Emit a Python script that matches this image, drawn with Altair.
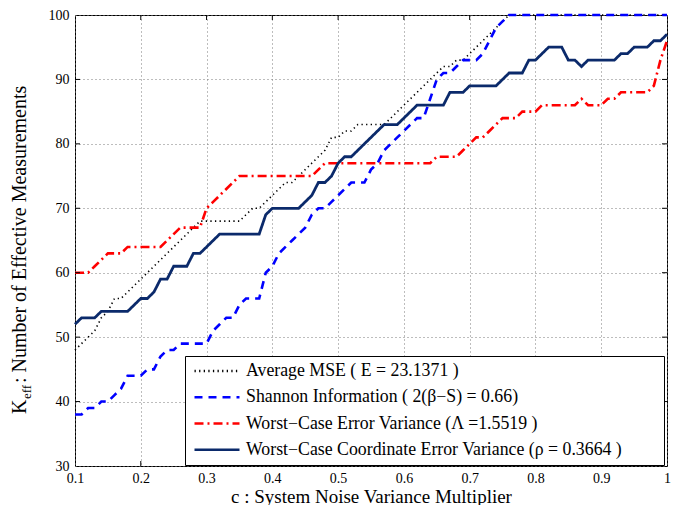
import altair as alt
import pandas as pd

# x positions (system noise variance multiplier c)
c_vals = [0.10, 0.11, 0.12, 0.13, 0.14, 0.15, 0.16, 0.17, 0.18, 0.19,
          0.20, 0.21, 0.22, 0.23, 0.24, 0.25, 0.26, 0.27, 0.28, 0.29,
          0.30, 0.31, 0.32, 0.33, 0.34, 0.35, 0.36, 0.37, 0.38, 0.39,
          0.40, 0.41, 0.42, 0.43, 0.44, 0.45, 0.46, 0.47, 0.48, 0.49,
          0.50, 0.51, 0.52, 0.53, 0.54, 0.55, 0.56, 0.57, 0.58, 0.59,
          0.60, 0.61, 0.62, 0.63, 0.64, 0.65, 0.66, 0.67, 0.68, 0.69,
          0.70, 0.71, 0.72, 0.73, 0.74, 0.75, 0.76, 0.77, 0.78, 0.79,
          0.80, 0.81, 0.82, 0.83, 0.84, 0.85, 0.86, 0.87, 0.88, 0.89,
          0.90, 0.91, 0.92, 0.93, 0.94, 0.95, 0.96, 0.97, 0.98, 0.99, 1.00]

avg_mse = [48, 49, 50, 51, 53, 54, 56, 56, 57, 58,
           59, 60, 61, 62, 63, 64, 65, 66, 67, 68,
           68, 68, 68, 68, 68, 68, 69, 70, 70, 71,
           72, 73, 74, 74, 75, 76, 77, 78, 79, 81,
           81, 82, 82, 83, 83, 83, 83, 83, 84, 85,
           86, 87, 88, 89, 90, 91, 92, 92, 93, 93,
           94, 95, 96, 97, 98, 99, 100, 100, 100, 100,
           100, 100, 100, 100, 100, 100, 100, 100, 100, 100,
           100, 100, 100, 100, 100, 100, 100, 100, 100, 100, 100]

shannon = [38, 38, 39, 39, 40, 40, 41, 42, 44, 44,
           44, 45, 45, 47, 48, 48, 49, 49, 49, 49,
           49, 51, 52, 53, 53, 55, 56, 56, 56, 60,
           61, 63, 64, 65, 66, 67, 69, 70, 70, 71,
           72, 73, 74, 74, 74, 76, 77, 79, 80, 81,
           82, 83, 84, 84, 87, 90, 91, 91, 92, 93,
           93, 93, 94, 96, 98, 99, 100, 100, 100, 100,
           100, 100, 100, 100, 100, 100, 100, 100, 100, 100,
           100, 100, 100, 100, 100, 100, 100, 100, 100, 100, 100]

worst_err = [60, 60, 60, 61, 62, 63, 63, 63, 64, 64,
             64, 64, 64, 64, 65, 66, 67, 67, 67, 67,
             70, 71, 72, 73, 74, 75, 75, 75, 75, 75,
             75, 75, 75, 75, 75, 75, 75, 76, 77, 77,
             77, 77, 77, 77, 77, 77, 77, 77, 77, 77,
             77, 77, 77, 77, 77, 78, 78, 78, 78, 79,
             80, 81, 81, 82, 83, 84, 84, 84, 85, 85,
             85, 86, 86, 86, 86, 86, 86, 87, 86, 86,
             86, 87, 87, 88, 88, 88, 88, 88, 89, 93, 96]

worst_coord = [52, 53, 53, 53, 54, 54, 54, 54, 54, 55,
               56, 56, 57, 59, 59, 61, 61, 61, 63, 63,
               64, 65, 66, 66, 66, 66, 66, 66, 66, 69,
               70, 70, 70, 70, 70, 71, 72, 74, 74, 75,
               77, 78, 78, 79, 80, 81, 82, 83, 83, 83,
               84, 85, 86, 86, 86, 86, 86, 88, 88, 88,
               89, 89, 89, 89, 89, 90, 91, 91, 91, 93,
               93, 94, 95, 95, 95, 93, 93, 92, 93, 93,
               93, 93, 93, 94, 94, 95, 95, 95, 96, 96, 97]

series_names = [
    "Average MSE ( E = 23.1371 )",
    "Shannon Information ( 2(\u03b2\u2212S) = 0.66)",
    "Worst\u2212Case Error Variance (\u039b =1.5519 )",
    "Worst\u2212Case Coordinate Error Variance (\u03c1 = 0.3664 )" + "\u00a0" * 8 + "\u200b",
]
series_values = [avg_mse, shannon, worst_err, worst_coord]
series_colors = ["#000000", "#0000FF", "#FF0000", "#0b2a6b"]
series_dashes = [[1.3, 3.3], [8, 6], [9, 4, 2, 4], [1, 0]]
series_widths = [1.6, 2.6, 2.6, 2.8]

x_ticks = [0.1, 0.2, 0.3, 0.4, 0.5, 0.6, 0.7, 0.8, 0.9, 1.0]
y_ticks = [30, 40, 50, 60, 70, 80, 90, 100]

rows = []
for name, vals in zip(series_names, series_values):
    for c, k in zip(c_vals, vals):
        rows.append({"c": c, "k": k, "series": name})
df = pd.DataFrame(rows)

W, H = 592, 451
FONT = "Liberation Serif"

x_scale = alt.Scale(domain=[0.1, 1.0], nice=False, zero=False)
y_scale = alt.Scale(domain=[30, 100], nice=False, zero=False)
x_axis = alt.Axis(values=x_ticks, format=".1~f", labelFlush=False,
                  labelFont=FONT, labelFontSize=14,
                  title="c : System Noise Variance Multiplier",
                  titleFont=FONT, titleFontSize=19, titleFontWeight="normal",
                  titleBaseline="alphabetic", titleY=36, labelPadding=5)
y_axis = alt.Axis(values=y_ticks, labelFlush=False, title=None, labelPadding=6,
                  labelFont=FONT, labelFontSize=14)

legend = alt.Legend(orient="none", legendX=110, legendY=341, title=None,
                    direction="vertical", symbolType="stroke", symbolSize=2025,
                    symbolStrokeWidth=2.5, labelFont=FONT, labelFontSize=17.8,
                    labelColor="black", labelLimit=900, padding=6, rowPadding=7.3,
                    strokeColor="black", fillColor="white", labelOffset=5,
                    symbolOffset=2, clipHeight=17.8, cornerRadius=0)

color_enc = alt.Color("series:N", scale=alt.Scale(domain=series_names, range=series_colors),
                      legend=legend)
dash_enc = alt.StrokeDash("series:N", scale=alt.Scale(domain=series_names, range=series_dashes),
                          legend=legend)

layers = []
for name, w in zip(series_names, series_widths):
    layers.append(
        alt.Chart(df).transform_filter(alt.datum.series == name)
        .mark_line(strokeWidth=w, strokeCap="butt", strokeJoin="miter")
        .encode(x=alt.X("c:Q", scale=x_scale, axis=x_axis),
                y=alt.Y("k:Q", scale=y_scale, axis=y_axis),
                color=color_enc, strokeDash=dash_enc)
    )

# inward tick marks on all four sides
xt = pd.DataFrame({"c": x_ticks[1:-1]})
yt = pd.DataFrame({"k": y_ticks[1:-1]})
tick_bottom = alt.Chart(xt).mark_rule(color="black", strokeWidth=1).encode(
    x=alt.X("c:Q", scale=x_scale, axis=x_axis), y=alt.value(H), y2=alt.value(H - 5))
tick_top = alt.Chart(xt).mark_rule(color="black", strokeWidth=1).encode(
    x=alt.X("c:Q", scale=x_scale, axis=x_axis), y=alt.value(0), y2=alt.value(5))
tick_left = alt.Chart(yt).mark_rule(color="black", strokeWidth=1).encode(
    y=alt.Y("k:Q", scale=y_scale, axis=y_axis), x=alt.value(0), x2=alt.value(5))
tick_right = alt.Chart(yt).mark_rule(color="black", strokeWidth=1).encode(
    y=alt.Y("k:Q", scale=y_scale, axis=y_axis), x=alt.value(W), x2=alt.value(W - 5))

# y-axis title with subscript
ytitle_main = alt.Chart(pd.DataFrame({"t": [" : Number of Effective Measurements"]})).mark_text(
    angle=270, align="left", baseline="alphabetic", font=FONT, fontSize=20, color="black"
).encode(text="t:N", x=alt.value(-49), y=alt.value(368))
ytitle_k = alt.Chart(pd.DataFrame({"t": ["K"]})).mark_text(
    angle=270, align="left", baseline="alphabetic", font=FONT, fontSize=20, color="black"
).encode(text="t:N", x=alt.value(-49), y=alt.value(399))
ytitle_sub = alt.Chart(pd.DataFrame({"t": ["eff"]})).mark_text(
    angle=270, align="left", baseline="alphabetic", font=FONT, fontSize=13, color="black"
).encode(text="t:N", x=alt.value(-44), y=alt.value(384))

chart = alt.layer(
    *layers, tick_bottom, tick_top, tick_left, tick_right,
    ytitle_main, ytitle_k, ytitle_sub
).properties(
    width=W, height=H,
    padding={"left": 67, "top": 7, "right": 5, "bottom": 39},
    autosize=alt.AutoSizeParams(type="none"),
).configure(
    font=FONT
).configure_view(
    stroke="black", strokeWidth=1
).configure_axis(
    labelFont=FONT, labelFontSize=14, labelColor="black",
    titleFont=FONT, titleFontSize=19, titleFontWeight="normal", titleColor="black",
    domain=False, ticks=False, grid=True,
    gridColor="#7a7a7a", gridDash=[1, 3], gridWidth=1, gridOpacity=1,
).configure_legend(
    labelFont=FONT, labelFontSize=17.8, labelColor="black"
).configure_text(
    font=FONT
)

chart.save("out.html", embed_options={"renderer": "svg", "actions": False})
